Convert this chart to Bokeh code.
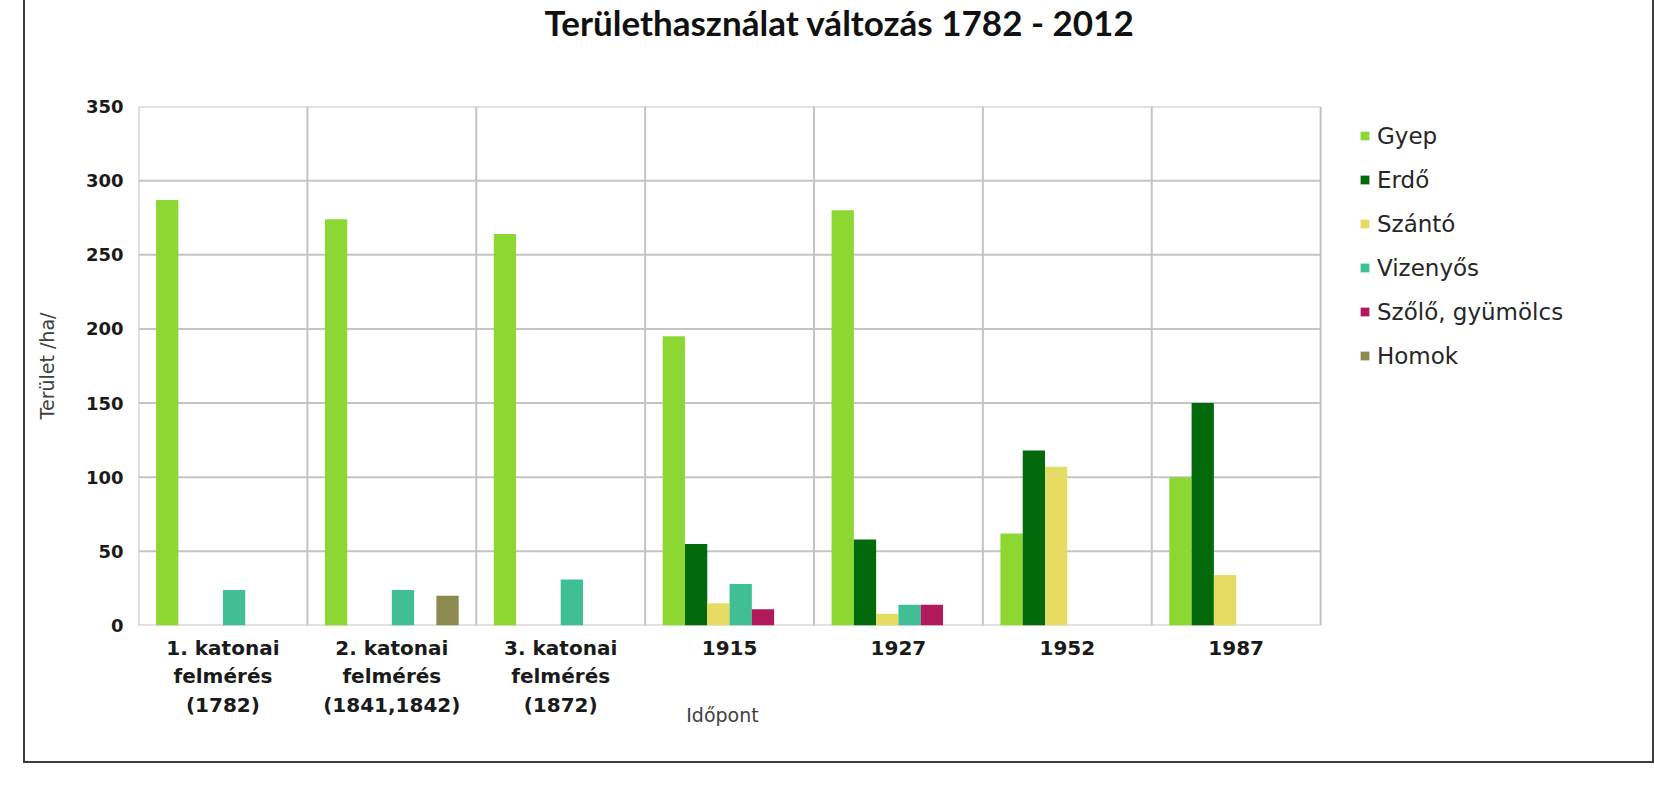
from bokeh.plotting import figure
from bokeh.models import ColumnDataSource, Legend, LegendItem, Range1d, FixedTicker, Label
from bokeh.transform import dodge
from bokeh.embed import file_html
from bokeh.resources import INLINE

categories = ["1. katonai\nfelmérés\n(1782)", "2. katonai\nfelmérés\n(1841,1842)",
              "3. katonai\nfelmérés\n(1872)", "1915", "1927", "1952", "1987"]
series = ["Gyep", "Erdő", "Szántó", "Vizenyős", "Szőlő, gyümölcs", "Homok"]
gyep = [287, 274, 264, 195, 280, 62, 100]
erdo = [0, 0, 0, 55, 58, 118, 150]
szanto = [0, 0, 0, 15, 8, 107, 34]
vizenyos = [24, 24, 31, 28, 14, 0, 0]
szolo = [0, 0, 0, 11, 14, 0, 0]
homok = [0, 20, 0, 0, 0, 0, 0]
y_ticks = [0, 50, 100, 150, 200, 250, 300, 350]
title_text = "Területhasználat változás 1782 - 2012"
x_title = "Időpont"
y_title = "Terület /ha/"

colors = ["#8CD732", "#036A0C", "#E6DC64", "#40BE94", "#B01A5C", "#8C8A50"]
keys = ["gyep", "erdo", "szanto", "vizenyos", "szolo", "homok"]

n = len(categories)
idx = list(range(n))
source = ColumnDataSource(dict(idx=idx, gyep=gyep, erdo=erdo, szanto=szanto,
                               vizenyos=vizenyos, szolo=szolo, homok=homok))

FONT = "DejaVu Sans"
GRID = "#c4c4c4"

# plot-area width 1179 px inside a frame that also holds the legend (1514 px)
x_range = Range1d(-0.5, -0.5 + n * 1514 / 1179)
y_max = y_ticks[-1]

p = figure(x_range=x_range, y_range=Range1d(0, y_max), width=1631, height=763,
           output_backend="svg", toolbar_location=None,
           min_border_left=113, min_border_right=0, min_border_top=106, min_border_bottom=138)
p.margin = (0, 0, 0, 23)
p.styles = {"border-left": "2px solid #3c3c3c", "border-right": "2px solid #3c3c3c",
            "border-bottom": "2px solid #3c3c3c"}
p.outline_line_color = None
p.xgrid.grid_line_color = None
p.ygrid.grid_line_color = None

# gridlines and plot-area border
p.segment(x0=-0.5, x1=n - 0.5, y0=y_ticks, y1=y_ticks, line_color=GRID, line_width=2)
bounds = [i + 0.5 for i in idx[:-1]]
p.segment(x0=bounds, x1=bounds, y0=0, y1=y_max, line_color=GRID, line_width=2)
p.segment(x0=[-0.5, n - 0.5], x1=[-0.5, n - 0.5], y0=0, y1=y_max, line_color=GRID, line_width=2)

bar_w = 0.132
items = []
for i, (k, name, c) in enumerate(zip(keys, series, colors)):
    off = (i - 2.5) * bar_w
    r = p.vbar(x=dodge("idx", off), top=k, width=bar_w, source=source,
               fill_color=c, line_color=None)
    items.append(LegendItem(label=name, renderers=[r]))

# axes
for ax in (p.xaxis, p.yaxis):
    ax.axis_line_color = None
    ax.major_tick_line_color = None
    ax.minor_tick_line_color = None
    ax.major_tick_out = 0
    ax.major_tick_in = 0
    ax.major_label_text_font = FONT
    ax.major_label_text_font_style = "bold"
    ax.major_label_text_color = "#1a1a1a"
    ax.axis_label_text_font = FONT
    ax.axis_label_text_font_style = "normal"
    ax.axis_label_text_color = "#404040"

p.yaxis.ticker = FixedTicker(ticks=y_ticks)
p.yaxis.major_label_text_font_size = "18px"
p.yaxis.major_label_standoff = 15
p.yaxis.axis_label = y_title
p.yaxis.axis_label_text_font_size = "19px"
p.yaxis.axis_label_standoff = 25

p.xaxis.ticker = FixedTicker(ticks=idx)
p.xaxis.major_label_overrides = {i: c for i, c in zip(idx, categories)}
p.xaxis.major_label_text_font_size = "20px"
p.xaxis.major_label_standoff = 10

# title, centred on the whole chart area, and x-axis title
p.add_layout(Label(x=701, y=85, x_units="screen", y_units="screen", text=title_text,
                   text_align="center", text_baseline="middle", text_font="Lato",
                   text_font_style="bold", text_font_size="35px", text_color="#111111"), "above")
p.add_layout(Label(x=584, y=-650, x_units="screen", y_units="screen", text=x_title,
                   text_align="center", text_baseline="middle", text_font=FONT,
                   text_font_size="19px", text_color="#404040"), "above")

legend = Legend(items=items, location=(1221, 256), margin=0, padding=0,
                glyph_width=11, glyph_height=11, label_height=27, spacing=17,
                label_standoff=7, label_text_font=FONT, label_text_font_size="23px",
                label_text_color="#262626", background_fill_alpha=0, border_line_color=None)
p.add_layout(legend, "center")

open("out.html", "w").write(file_html(p, INLINE))
